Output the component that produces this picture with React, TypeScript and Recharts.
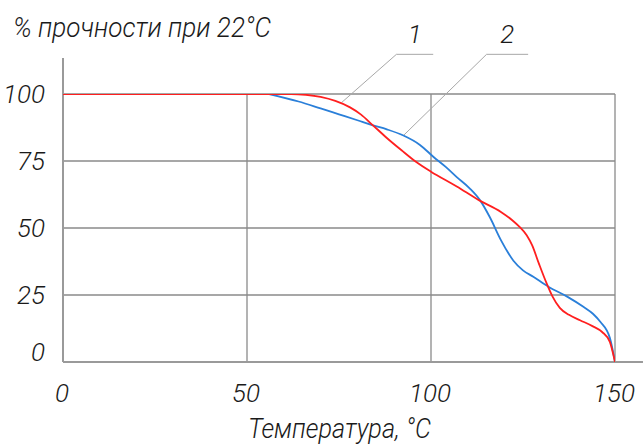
import React from 'react';
import { LineChart, Line, XAxis, YAxis, CartesianGrid, ReferenceLine } from 'recharts';

// curve 1 (red) — temperature °C / % of strength at 22°C
const temps1 = [0, 62, 66, 70, 74, 78, 81, 84, 88, 92, 96, 100, 107, 113, 119, 122, 124, 126, 127.5, 129.3, 131.4, 133, 135, 137.5, 140.5, 144, 146.5, 148.6, 150];
const strength1 = [100, 100, 99.7, 98.9, 97.4, 95, 92.3, 88.6, 83.6, 79, 74.6, 71, 65.5, 60.4, 56, 53, 50.5, 47.3, 43.5, 36.8, 29.4, 24.5, 20.2, 17.6, 15.6, 13.3, 11.2, 7.5, 0];

// curve 2 (blue)
const temps2 = [56, 64, 70, 75, 80, 84, 88, 92.5, 97, 100.7, 104, 107, 110.5, 113.3, 116, 119, 122.4, 125, 127.8, 132, 137, 141.4, 144, 146, 148.6, 150];
const strength2 = [100, 97.2, 94.6, 92.4, 90.2, 88.4, 86.8, 84.5, 81, 76.5, 72.8, 69, 64.8, 60.4, 54, 45.5, 37.8, 34.2, 31.8, 28, 24.4, 20.6, 18, 15, 9, 0];

const xTicks = [0, 50, 100, 150];
const yTicks = [0, 25, 50, 75, 100];

const curve1 = temps1.map((t, i) => ({ t, v: strength1[i] }));
const curve2 = temps2.map((t, i) => ({ t, v: strength2[i] }));

const FONT = 'Roboto, "DejaVu Sans", sans-serif';
const textStyle = { fontFamily: FONT, fontStyle: 'italic', fontWeight: 300, fill: '#1a1a1a' } as const;

const renderYTick = (props: any) => {
  const { x, y, payload } = props;
  return (
    <text x={x - 18} y={payload.value === 0 ? y - 1 : y + 9} textAnchor="end" fontSize={26} style={textStyle}>
      {payload.value}
    </text>
  );
};

const renderXTick = (props: any) => {
  const { x, y, payload } = props;
  return (
    <text x={x - 1} y={y + 40} textAnchor="middle" fontSize={26} style={textStyle}>
      {payload.value}
    </text>
  );
};

const LeaderLabel = (text: string) => (props: any) => {
  const vb = props.viewBox || {};
  return (
    <text x={vb.x + vb.width / 2} y={vb.y - 11} textAnchor="middle" fontSize={26} style={textStyle}>
      {text}
    </text>
  );
};

export default function App() {
  return (
    <div style={{ position: 'absolute', left: 0, top: 0, background: '#fff' }}>
      <LineChart width={643} height={446} margin={{ top: 94, right: 28, left: 62, bottom: 83 }}>
        <CartesianGrid stroke="#8a8a8a" strokeWidth={1.3} />
        <XAxis
          dataKey="t"
          type="number"
          domain={[0, 150]}
          ticks={xTicks}
          interval={0}
          height={1}
          tickSize={0}
          tickMargin={0}
          tickLine={false}
          axisLine={false}
          tick={renderXTick}
          allowDataOverflow
        />
        <YAxis
          dataKey="v"
          type="number"
          domain={[0, 100]}
          ticks={yTicks}
          interval={0}
          width={1}
          tickSize={0}
          tickMargin={0}
          tickLine={false}
          axisLine={false}
          tick={renderYTick}
          allowDataOverflow
        />
        {/* axis lines running past the grid */}
        <ReferenceLine segment={[{ x: 0, y: 0 }, { x: 0, y: 113.4 }]} stroke="#9a9a9a" strokeWidth={2} ifOverflow="visible" />
        <ReferenceLine segment={[{ x: 0, y: 0 }, { x: 157.6, y: 0 }]} stroke="#9a9a9a" strokeWidth={2} ifOverflow="visible" />

        {/* leader lines for curve numbers */}
        <ReferenceLine segment={[{ x: 75.7, y: 96.8 }, { x: 90.6, y: 114.8 }]} stroke="#a8a8a8" strokeWidth={1} ifOverflow="visible" />
        <ReferenceLine segment={[{ x: 90.6, y: 114.8 }, { x: 100.6, y: 114.8 }]} stroke="#a8a8a8" strokeWidth={1} ifOverflow="visible" label={LeaderLabel('1')} />
        <ReferenceLine segment={[{ x: 92.5, y: 84.5 }, { x: 115.1, y: 114.8 }]} stroke="#a8a8a8" strokeWidth={1} ifOverflow="visible" />
        <ReferenceLine segment={[{ x: 115.1, y: 114.8 }, { x: 126.4, y: 114.8 }]} stroke="#a8a8a8" strokeWidth={1} ifOverflow="visible" label={LeaderLabel('2')} />

        <Line data={curve2} dataKey="v" type="monotone" stroke="#2a7fd9" strokeWidth={1.8} dot={false} isAnimationActive={false} />
        <Line data={curve1} dataKey="v" type="monotone" stroke="#ff1f1f" strokeWidth={1.8} dot={false} isAnimationActive={false} />

        <text x={13} y={37} fontSize={28} textLength={258} lengthAdjust="spacingAndGlyphs" style={textStyle}>
          % прочности при 22°C
        </text>
        <text x={248} y={438} fontSize={27} textLength={183} lengthAdjust="spacingAndGlyphs" style={textStyle}>
          Температура, °C
        </text>
      </LineChart>
    </div>
  );
}
